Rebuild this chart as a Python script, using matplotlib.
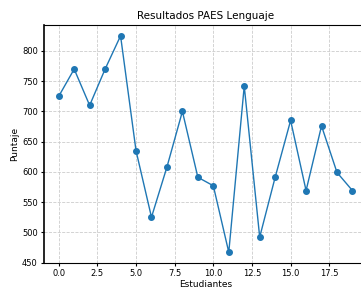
import matplotlib
matplotlib.use('Agg')
import matplotlib.pyplot as plt

# puntajes por estudiante
estudiantes = list(range(20))
puntajes = [725, 770, 710, 770, 825, 635, 525, 608, 700, 591,
            577, 467, 742, 492, 591, 685, 569, 676, 599, 569]

fig = plt.figure(figsize=(3.61, 2.91), dpi=100)
ax = fig.add_axes([0.122, 0.096, 0.895, 0.818])

ax.plot(estudiantes, puntajes, marker='o', markersize=4, linewidth=1, color='#1f77b4')

ax.set_title('Resultados PAES Lenguaje', fontsize=7.5, pad=4)
ax.set_xlabel('Estudiantes', fontsize=6.5, labelpad=1)
ax.set_ylabel('Puntaje', fontsize=6.5, labelpad=2)
ax.tick_params(labelsize=6, length=2.5, pad=2)
ax.grid(True, linestyle='--', color='#cccccc', linewidth=0.6)
ax.spines['left'].set_linewidth(1.2)

fig.savefig('out.png', dpi=100)
